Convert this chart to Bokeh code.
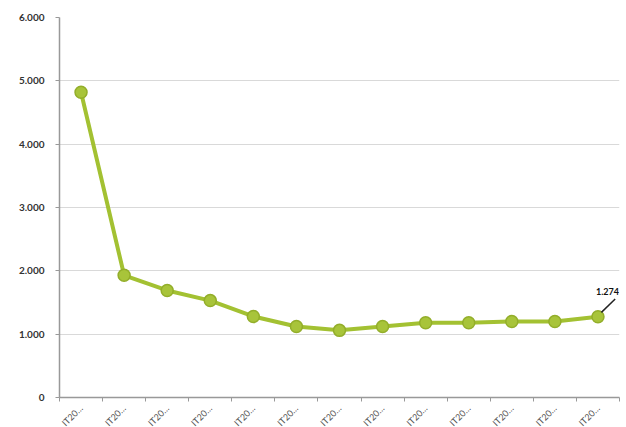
import math
from bokeh.plotting import figure
from bokeh.models import FixedTicker, Range1d, Label
from bokeh.embed import file_html
from bokeh.resources import INLINE

categories = ["IT20…"] * 13
values = [4820, 1930, 1690, 1530, 1280, 1120, 1060, 1120, 1180, 1180, 1200, 1200, 1274]
y_ticks = [0, 1000, 2000, 3000, 4000, 5000, 6000]
y_tick_labels = ["0", "1.000", "2.000", "3.000", "4.000", "5.000", "6.000"]
last_label = "1.274"

xs = [i + 0.5 for i in range(len(values))]

p = figure(frame_width=560, frame_height=380, output_backend="svg", toolbar_location=None,
           x_range=Range1d(0, len(values)), y_range=Range1d(0, 6000),
           min_border_left=59, min_border_right=6, min_border_top=17, min_border_bottom=0)
p.outline_line_color = None
p.background_fill_color = "white"

p.line(xs, values, line_color="#A3C132", line_width=4)
p.scatter(xs, values, size=12, fill_color="#A8C43A", line_color="#93AE2A", line_width=1.5)

p.xaxis.ticker = FixedTicker(ticks=xs, minor_ticks=list(range(len(values) + 1)))
p.xaxis.major_label_overrides = {x: c for x, c in zip(xs, categories)}
p.xaxis.major_label_orientation = math.pi / 4
p.xaxis.major_tick_line_color = None
p.xaxis.minor_tick_line_color = "#999999"
p.xaxis.minor_tick_out = 4
p.xaxis.minor_tick_in = 0
p.xaxis.axis_line_color = "#999999"
p.xaxis.axis_line_width = 1.5
p.xaxis.major_label_text_font = "Lato"
p.xaxis.major_label_text_font_size = "9px"
p.xaxis.major_label_text_color = "#555555"
p.xaxis.major_label_standoff = 3

p.yaxis.ticker = FixedTicker(ticks=y_ticks)
p.yaxis.major_label_overrides = {t: l for t, l in zip(y_ticks, y_tick_labels)}
p.yaxis.minor_tick_line_color = None
p.yaxis.major_tick_line_color = "#999999"
p.yaxis.major_tick_out = 4
p.yaxis.major_tick_in = 0
p.yaxis.axis_line_color = "#999999"
p.yaxis.axis_line_width = 1.5
p.yaxis.major_label_text_font = "Lato"
p.yaxis.major_label_text_font_style = "bold"
p.yaxis.major_label_text_font_size = "10px"
p.yaxis.major_label_text_color = "#333333"
p.yaxis.major_label_standoff = 11

p.xgrid.grid_line_color = None
p.ygrid.grid_line_color = "#D9D9D9"
p.ygrid.grid_line_width = 1

# data label with leader line
lx, ly = xs[-1], values[-1]
p.segment(x0=[lx + 0.08], y0=[ly + 70], x1=[lx + 0.4], y1=[ly + 280],
          line_color="#222222", line_width=1.5)
p.add_layout(Label(x=lx, y=ly, text=last_label, x_offset=-2, y_offset=22,
                   text_font="Lato", text_font_style="bold", text_font_size="9px",
                   text_color="#111111"))

open("out.html", "w").write(file_html(p, INLINE))
